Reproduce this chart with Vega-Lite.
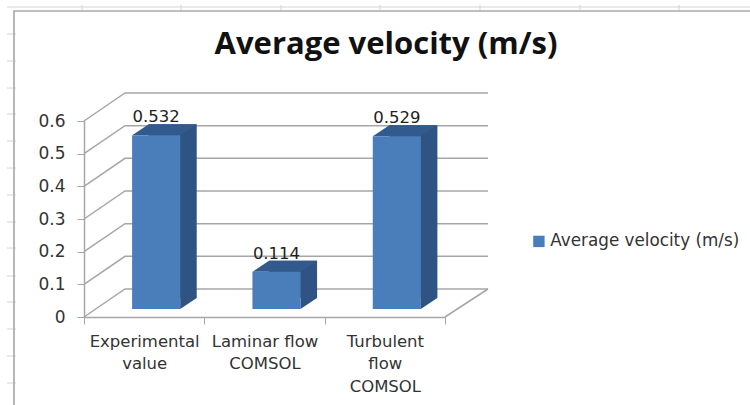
{
  "width": 361,
  "height": 196,
  "autosize": {"type": "none"},
  "padding": {"left": 84, "top": 121, "right": 305, "bottom": 88},
  "background": "white",
  "title": {"text": "Average velocity (m/s)", "font": "Open Sans", "fontSize": 31, "fontWeight": "bold", "color": "#111111", "anchor": "middle", "dx": 121.5, "offset": -82, "baseline": "alphabetic"},
  "datasets": {
    "bars": [
      {"case": "Experimental value", "velocity": 0.532, "base": 0, "series": "Average velocity (m/s)"},
      {"case": "Laminar flow COMSOL", "velocity": 0.114, "base": 0, "series": "Average velocity (m/s)"},
      {"case": "Turbulent flow COMSOL", "velocity": 0.529, "base": 0, "series": "Average velocity (m/s)"}
    ],
    "ticks": [{"tick": 0}, {"tick": 0.1}, {"tick": 0.2}, {"tick": 0.3}, {"tick": 0.4}, {"tick": 0.5}, {"tick": 0.6}]
  },
  "resolve": {"axis": {"x": "independent", "y": "independent"}},
  "layer": [
    {
      "data": {"values": [{"tick": 0.6}]},
      "mark": {"type": "point", "filled": false, "opacity": 1, "size": 4, "strokeWidth": 1, "stroke": "#d4d4d4", "shape": "M-77,-114 L666,-114 M-2,-116 L-2,-110 M97,-116 L97,-110 M197,-116 L197,-110 M296,-116 L296,-110 M396,-116 L396,-110 M496,-116 L496,-110 M595,-116 L595,-110 M-77,-87 L-68,-87 M-77,-60 L-68,-60 M-77,-33 L-68,-33 M-77,-7 L-68,-7 M-77,20 L-68,20 M-77,47 L-68,47 M-77,74 L-68,74 M-77,101 L-68,101 M-77,127 L-68,127 M-77,155 L-68,155 M-77,181 L-68,181 M-77,208 L-68,208 M-77,235 L-68,235 M-77,262 L-68,262"},
      "encoding": {"x": {"value": 0}, "y": {"field": "tick", "type": "quantitative", "axis": null, "scale": {"domain": [0, 0.6], "nice": false}}}
    },
    {
      "data": {"values": [{"tick": 0.6}]},
      "mark": {"type": "point", "filled": false, "opacity": 1, "size": 4, "strokeWidth": 1.7, "stroke": "#ababab", "shape": "M-70,284 L-70,-110 L666,-110"},
      "encoding": {"x": {"value": 0}, "y": {"field": "tick", "type": "quantitative", "axis": null}}
    },
    {
      "data": {"name": "ticks"},
      "mark": {"type": "point", "filled": false, "opacity": 1, "size": 4, "strokeWidth": 1.5, "stroke": "#a6a6a6", "shape": "M0,0 L41,-28 L404,-28"},
      "encoding": {"x": {"value": 0}, "y": {"field": "tick", "type": "quantitative", "axis": null}}
    },
    {
      "data": {"values": [{"tick": 0}]},
      "mark": {"type": "point", "filled": false, "opacity": 1, "size": 4, "strokeWidth": 1.5, "stroke": "#a6a6a6", "shape": "M361,0 L404,-28"},
      "encoding": {"x": {"value": 0}, "y": {"field": "tick", "type": "quantitative", "axis": null}}
    },
    {
      "data": {"name": "bars"},
      "mark": {"type": "bar", "width": {"band": 0.4}, "xOffset": 28.5, "yOffset": -19, "y2Offset": -19, "fill": "#2f5483"},
      "encoding": {"y": {"field": "velocity", "type": "quantitative", "stack": null, "axis": null}, "y2": {"field": "base"}, "x": {"field": "case", "type": "nominal", "sort": null, "axis": null, "scale": {"paddingInner": 0, "paddingOuter": 0}}}
    },
    {
      "data": {"name": "bars"},
      "mark": {"type": "point", "filled": true, "opacity": 1, "size": 4, "strokeWidth": 0, "fill": "#2f5483", "xOffset": 12, "yOffset": -8, "shape": "M24,0 L40.5,-11 L24,-11 Z"},
      "encoding": {"y": {"field": "base", "type": "quantitative", "axis": null}, "x": {"field": "case", "type": "nominal", "sort": null, "axis": null}}
    },
    {
      "data": {"name": "bars"},
      "mark": {"type": "point", "filled": true, "opacity": 1, "size": 4, "strokeWidth": 0, "fill": "#335a8d", "xOffset": 12, "yOffset": -8, "shape": "M-24,0 L24,0 L40.5,-11 L-7.5,-11 Z"},
      "encoding": {"y": {"field": "velocity", "type": "quantitative", "axis": null}, "x": {"field": "case", "type": "nominal", "sort": null, "axis": null}}
    },
    {
      "data": {"name": "bars"},
      "mark": {"type": "bar", "width": {"band": 0.4}, "xOffset": 12, "yOffset": -8, "y2Offset": -8},
      "encoding": {
        "x": {"field": "case", "type": "nominal", "sort": null, "axis": {"tickBand": "extent", "title": null, "labelAngle": 0, "labelFont": "DejaVu Sans", "labelFontSize": 16.5, "labelColor": "#333333", "labelLineHeight": 22.5, "labelPadding": 9, "labelLimit": 200, "labelOverlap": false, "domainColor": "#a6a6a6", "domainWidth": 1.5, "tickColor": "#a6a6a6", "tickSize": 7, "tickWidth": 1, "labelExpr": "datum.value == 'Experimental value' ? ['Experimental', 'value'] : datum.value == 'Laminar flow COMSOL' ? ['Laminar flow', 'COMSOL'] : datum.value == 'Turbulent flow COMSOL' ? ['Turbulent', 'flow', 'COMSOL'] : ''"}},
        "y": {"field": "velocity", "type": "quantitative", "stack": null, "axis": {"title": null, "values": [0, 0.1, 0.2, 0.3, 0.4, 0.5, 0.6], "format": "~g", "grid": false, "labelFont": "DejaVu Sans", "labelFontSize": 17, "labelColor": "#333333", "labelPadding": 12, "domainColor": "#a6a6a6", "domainWidth": 1.5, "tickColor": "#a6a6a6", "tickSize": 7, "tickWidth": 1}},
        "y2": {"field": "base"},
        "color": {"field": "series", "type": "nominal", "scale": {"range": ["#4a7ebb"]}, "legend": {"title": null, "orient": "none", "legendX": 446.5, "legendY": 112, "padding": 0, "symbolType": "square", "symbolSize": 130, "symbolStrokeWidth": 0, "labelFont": "DejaVu Sans", "labelFontSize": 16.8, "labelColor": "#333333", "labelOffset": 3, "labelLimit": 230}}
      }
    },
    {
      "data": {"name": "bars"},
      "mark": {"type": "text", "font": "DejaVu Sans", "fontSize": 16.5, "color": "#222222", "baseline": "alphabetic", "align": "center", "xOffset": 12, "yOffset": -21},
      "encoding": {"y": {"field": "velocity", "type": "quantitative", "axis": null}, "x": {"field": "case", "type": "nominal", "sort": null, "axis": null}, "text": {"field": "velocity", "type": "quantitative", "format": ".3f"}}
    }
  ],
  "config": {"view": {"stroke": null}}
}
